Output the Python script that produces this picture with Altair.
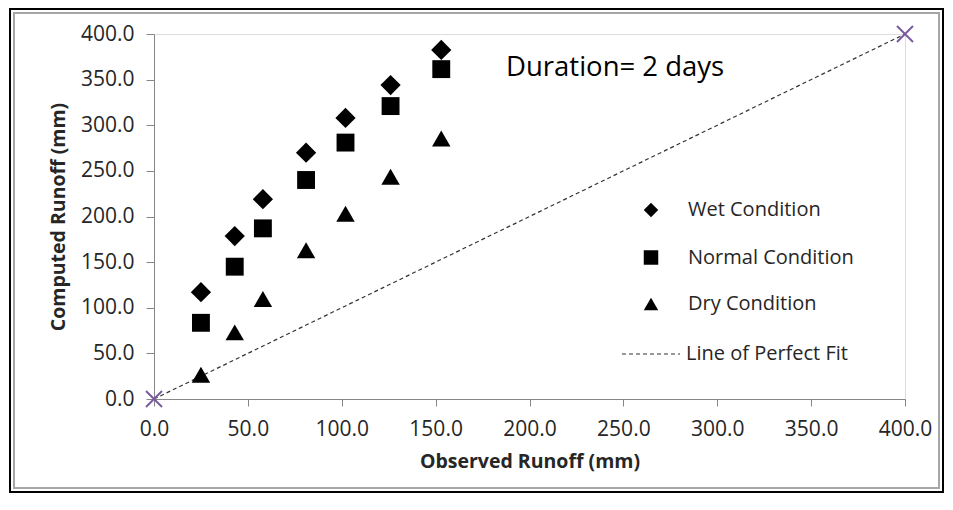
import altair as alt
import pandas as pd

# ---- data ----
observed = [25.0, 43.0, 58.0, 81.0, 102.0, 126.0, 153.0]
wet = [117.0, 178.5, 219.0, 270.0, 308.0, 344.0, 382.5]
normal = [83.5, 145.0, 187.0, 240.0, 281.0, 321.0, 361.5]
dry = [26.5, 73.0, 109.5, 163.0, 203.0, 243.5, 285.5]
conditions = ["Wet Condition", "Normal Condition", "Dry Condition"]
shapes = ["diamond", "square", "triangle-up"]
marker_sizes = [410, 320, 340]
fit_x = [0.0, 400.0]
fit_y = [0.0, 400.0]
fit_label = "Line of Perfect Fit"
ticks = [0, 50, 100, 150, 200, 250, 300, 350, 400]
annotation = "Duration= 2 days"

FONT = "Open Sans"
TXT = "#262626"
AXIS_GREY = "#868686"

rows = []
for cond, vals in zip(conditions, [wet, normal, dry]):
    for ox, cy in zip(observed, vals):
        rows.append({"observed": ox, "computed": cy, "condition": cond})
pts = pd.DataFrame(rows)
fit = pd.DataFrame({"observed": fit_x, "computed": fit_y, "series": [fit_label] * 2})
dummy = pd.DataFrame({"a": [0]})

xscale = alt.Scale(domain=[0, 400], nice=False, zero=False)
yscale = alt.Scale(domain=[0, 400], nice=False, zero=False)

xaxis = alt.Axis(
    title="Observed Runoff (mm)", values=ticks, format=".1f", grid=False,
    domainColor=AXIS_GREY, tickColor=AXIS_GREY, tickSize=7, labelPadding=12,
    labelFont=FONT, labelFontSize=21, labelColor=TXT,
    titleFont=FONT, titleFontSize=19.5, titleFontWeight="bold", titleColor=TXT,
    titlePadding=13, labelFlush=False,
)
yaxis = alt.Axis(
    title="Computed Runoff (mm)", values=ticks, format=".1f", grid=False,
    domainColor=AXIS_GREY, tickColor=AXIS_GREY, tickSize=8, labelPadding=12,
    labelFont=FONT, labelFontSize=21, labelColor=TXT,
    titleFont=FONT, titleFontSize=19.5, titleFontWeight="bold", titleColor=TXT,
    titlePadding=12, labelFlush=False,
)

# decorative double frame around the whole figure
frame_outer = alt.Chart(dummy).mark_rect(fillOpacity=0, stroke="#000000", strokeWidth=2).encode(
    x=alt.value(-144), x2=alt.value(789), y=alt.value(-25), y2=alt.value(458)
)
frame_inner = alt.Chart(dummy).mark_rect(fillOpacity=0, stroke="#a6a6a6", strokeWidth=2).encode(
    x=alt.value(-140), x2=alt.value(785), y=alt.value(-21), y2=alt.value(454)
)

line = alt.Chart(fit).mark_line(color="#333333", strokeWidth=1.2).encode(
    x=alt.X("observed:Q", scale=xscale, axis=xaxis),
    y=alt.Y("computed:Q", scale=yscale, axis=yaxis),
    strokeDash=alt.StrokeDash(
        "series:N",
        scale=alt.Scale(domain=[fit_label], range=[[4, 3]]),
        legend=alt.Legend(
            orient="none", legendX=467, legendY=290, title=None,
            symbolType="stroke", symbolSize=3364, symbolStrokeWidth=1.2,
            symbolStrokeColor="#333333", labelOffset=5, labelLimit=400,
            labelFont=FONT, labelFontSize=20, labelColor=TXT, padding=0,
        ),
    ),
)

xmarks = alt.Chart(fit).mark_point(
    shape="M-1,-1L1,1M-1,1L1,-1", stroke="#7a5c9e", strokeWidth=2,
    size=256, opacity=1,
).encode(x=alt.X("observed:Q", scale=xscale), y=alt.Y("computed:Q", scale=yscale))

shape_enc = alt.Shape(
    "condition:N",
    scale=alt.Scale(domain=conditions, range=shapes),
    legend=alt.Legend(
        orient="none", legendX=487, legendY=166, title=None,
        symbolSize=210, symbolFillColor="#000000", labelLimit=400,
        labelOffset=27, rowPadding=25.5,
        labelFont=FONT, labelFontSize=20, labelColor=TXT, padding=0,
    ),
)

point_layers = []
for cond, msize in zip(conditions, marker_sizes):
    point_layers.append(
        alt.Chart(pts)
        .transform_filter(alt.datum.condition == cond)
        .mark_point(filled=True, color="#000000", opacity=1, size=msize)
        .encode(
            x=alt.X("observed:Q", scale=xscale),
            y=alt.Y("computed:Q", scale=yscale),
            shape=shape_enc,
        )
    )

label = alt.Chart(dummy).mark_text(
    text=annotation, font=FONT, fontSize=27.5, color="#000000", align="left", baseline="middle"
).encode(x=alt.value(352), y=alt.value(34))

chart = alt.layer(frame_outer, frame_inner, line, xmarks, *point_layers, label).properties(
    width=751, height=365,
    autosize=alt.AutoSizeParams(type="none"),
    padding={"left": 146, "top": 26, "right": 40, "bottom": 95},
).configure_view(stroke="#000000", strokeWidth=1).configure(background="#ffffff")

chart.save("out.html", embed_options={"renderer": "svg", "actions": False})
